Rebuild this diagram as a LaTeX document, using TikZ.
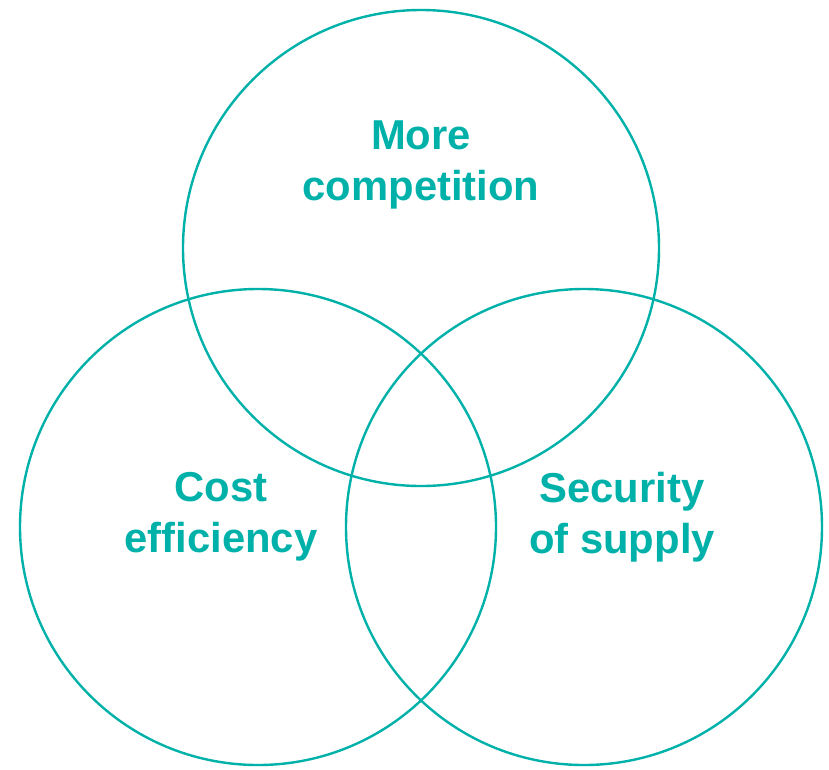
\documentclass[tikz,border=0pt]{standalone}
\usepackage{fontspec}
\setmainfont{Liberation Sans}
\definecolor{vennteal}{HTML}{00B1A9}

\begin{document}
\begin{tikzpicture}[x=1pt,y=-1pt]
    \tikzset{ring/.style = {shape=circle,draw=vennteal,line width=2.4pt,minimum size=476pt,inner sep=0pt},
             label/.style = {text=vennteal,font=\fontsize{41.8}{51}\selectfont\bfseries,align=center}}
    \useasboundingbox (0,0) rectangle (829,769);

    % Three overlapping circles
    \foreach \pos/\name in {{(421,248)/top}, {(258,527)/left}, {(584,527)/right}}
        \node[ring] (\name) at \pos {};

    % Labels inside the circles
    \node[label] (toptext) at (421,165) {More\\competition};
    \node[label] (lefttext) at (221,517) {Cost\\efficiency};
    \node[label] (righttext) at (622,517) {Security\\of supply};
\end{tikzpicture}
\end{document}
